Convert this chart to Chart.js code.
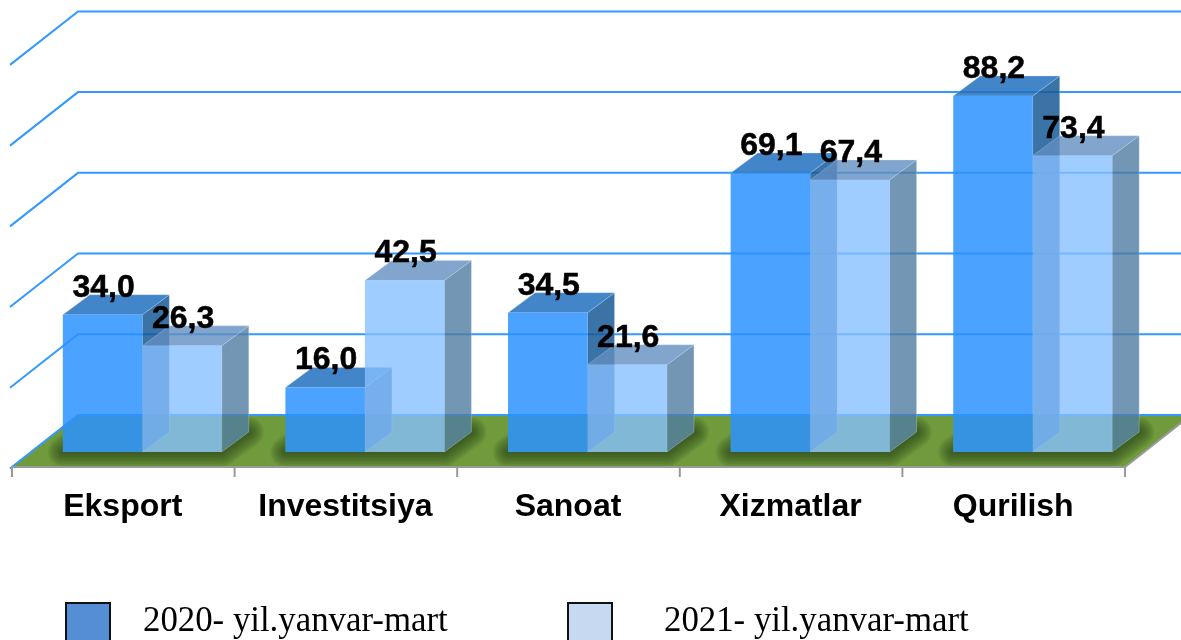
<!DOCTYPE html>
<html>
<head>
<meta charset="utf-8">
<style>html,body{margin:0;padding:0;background:#fff;overflow:hidden}canvas{display:block}</style>
<script src="https://cdn.jsdelivr.net/npm/chart.js@4/dist/chart.umd.js"></script>
</head>
<body>
<canvas id="c" width="1181" height="640"></canvas>
<script>
const categories = ["Eksport", "Investitsiya", "Sanoat", "Xizmatlar", "Qurilish"];
const values2020 = [34.0, 16.0, 34.5, 69.1, 88.2];
const values2021 = [26.3, 42.5, 21.6, 67.4, 73.4];
const seriesNames = ["2020- yil.yanvar-mart", "2021- yil.yanvar-mart"];
const frontColors = ["rgba(43,146,255,0.85)", "rgba(135,192,255,0.79)"];
const topColors = ["rgba(33,112,190,0.85)", "rgba(99,142,192,0.8)"];
const sideColors = ["rgba(25,90,150,0.85)", "rgba(80,124,161,0.8)"];
const legendColors = ["#558ED5", "#C6D9F1"];
const legendBoxX = [66, 568];
const legendTextX = [143, 664];

const BAR_DX = 27, BAR_DY = 20;      // bar depth
const WALL_DX = 47, WALL_DY = 37;    // bar plane -> back wall
const FRONT_DX = 19, FRONT_DY = 15;  // bar plane -> floor front edge
const GRID = "#3399ff", AXIS = "#999999";

function trace(ctx, pts) {
  pts.forEach((p, i) => i ? ctx.lineTo(p[0], p[1]) : ctx.moveTo(p[0], p[1]));
  ctx.closePath();
}
function poly(ctx, pts, fill, edge) {
  ctx.beginPath();
  trace(ctx, pts);
  ctx.fillStyle = fill;
  ctx.fill();
  if (edge) {
    ctx.strokeStyle = edge;
    ctx.lineWidth = 1;
    ctx.stroke();
  }
}

const scene = {
  id: "scene",
  beforeDatasetsDraw(chart) {
    const ctx = chart.ctx, xs = chart.scales.x, ys = chart.scales.y;
    const L = chart.chartArea.left, R = chart.chartArea.right;
    const y0 = ys.getPixelForValue(0);
    const fl = L - FRONT_DX, fr = R - FRONT_DX, fy = y0 + FRONT_DY;
    const bl = L + WALL_DX, br = R + WALL_DX, by = y0 - WALL_DY;

    ctx.save();
    // floor
    const floor = [[fl, fy], [fr, fy], [br, by], [bl, by]];
    poly(ctx, floor, "#6f9b3c");

    // soft shadow halo on the floor around each bar pair's footprint
    categories.forEach((_, j) => {
      const a = chart.getDatasetMeta(0).data[j], b = chart.getDatasetMeta(1).data[j];
      const x1 = a.x - a.width / 2, x2 = b.x + b.width / 2;
      const foot = [[x1, y0], [x2, y0], [x2 + BAR_DX, y0 - BAR_DY], [x1 + BAR_DX, y0 - BAR_DY]];
      const covered = [[x1, y0], [x2, y0], [x2 + BAR_DX, y0 - BAR_DY], [x2 + BAR_DX, by], [x1, by]];
      ctx.save();
      ctx.beginPath();
      trace(ctx, floor);
      ctx.clip();
      ctx.beginPath();
      ctx.rect(0, 0, 1181, 640);
      trace(ctx, covered);
      ctx.clip("evenodd");
      ctx.lineJoin = "round";
      ctx.strokeStyle = "rgba(40,60,24,0.085)";
      for (let w = 30; w >= 2; w -= 3) {
        ctx.lineWidth = w;
        ctx.beginPath();
        trace(ctx, foot);
        ctx.stroke();
      }
      ctx.restore();
    });

    // back-wall grid lines from the value scale
    ctx.lineWidth = 2;
    ctx.strokeStyle = GRID;
    ys.ticks.forEach(t => {
      const gy = ys.getPixelForValue(t.value) - WALL_DY;
      ctx.beginPath();
      ctx.moveTo(bl - WALL_DX - FRONT_DX - 2, gy + WALL_DY + FRONT_DY + 1.5);
      ctx.lineTo(bl, gy);
      ctx.lineTo(br, gy);
      ctx.stroke();
    });

    // x axis edge + ticks
    ctx.strokeStyle = AXIS;
    ctx.beginPath();
    ctx.moveTo(fl, fy);
    ctx.lineTo(fr, fy);
    ctx.lineTo(br, by);
    ctx.stroke();
    const step = (R - L) / categories.length;
    for (let i = 0; i <= categories.length; i++) {
      const tx = xs.getPixelForValue(0) - step / 2 + i * step - FRONT_DX;
      ctx.beginPath();
      ctx.moveTo(tx, fy);
      ctx.lineTo(tx, fy + 10);
      ctx.stroke();
    }

    // top and side faces of the bars
    [0, 1].forEach(d => {
      chart.getDatasetMeta(d).data.forEach(bar => {
        const x1 = bar.x - bar.width / 2, x2 = bar.x + bar.width / 2, t = bar.y, b = bar.base;
        const edge = "rgba(205,225,250,0.28)";
        poly(ctx, [[x2, t], [x2 + BAR_DX, t - BAR_DY], [x2 + BAR_DX, b - BAR_DY], [x2, b]], sideColors[d], edge);
        poly(ctx, [[x1, t], [x2, t], [x2 + BAR_DX, t - BAR_DY], [x1 + BAR_DX, t - BAR_DY]], topColors[d], edge);
      });
    });
    ctx.restore();
  },
  afterDatasetsDraw(chart) {
    const ctx = chart.ctx;
    ctx.save();
    // value labels
    ctx.fillStyle = "#000";
    ctx.strokeStyle = "#000";
    ctx.lineWidth = 0.5;
    ctx.font = 'bold 32px "Liberation Sans"';
    ctx.textAlign = "center";
    ctx.textBaseline = "alphabetic";
    [values2020, values2021].forEach((vals, d) => {
      chart.getDatasetMeta(d).data.forEach((bar, j) => {
        const s = vals[j].toFixed(1).replace(".", ",");
        ctx.fillText(s, bar.x + 1, bar.y - 18);
        ctx.strokeText(s, bar.x + 1, bar.y - 18);
      });
    });
    // legend
    seriesNames.forEach((name, d) => {
      ctx.fillStyle = legendColors[d];
      ctx.strokeStyle = "#111";
      ctx.lineWidth = 2;
      ctx.fillRect(legendBoxX[d], 603, 44, 41);
      ctx.strokeRect(legendBoxX[d], 603, 44, 41);
      ctx.fillStyle = "#000";
      ctx.font = '34.8px "Liberation Serif"';
      ctx.textAlign = "left";
      ctx.fillText(name, legendTextX[d], 631);
    });
    ctx.restore();
  }
};

new Chart(document.getElementById("c"), {
  type: "bar",
  data: {
    labels: categories,
    datasets: [
      { label: seriesNames[0], data: values2020, backgroundColor: frontColors[0], borderWidth: 0 },
      { label: seriesNames[1], data: values2021, backgroundColor: frontColors[1], borderWidth: 0 }
    ]
  },
  options: {
    responsive: false,
    animation: false,
    layout: { padding: { left: 31, right: 37, top: 48.4, bottom: 48 } },
    datasets: { bar: { categoryPercentage: 0.714, barPercentage: 1 } },
    plugins: { legend: { display: false }, tooltip: { enabled: false }, title: { display: false } },
    scales: {
      x: {
        afterFit(s) { s.height = 140; },
        grid: { display: false, drawTicks: false },
        border: { display: false },
        ticks: {
          color: "#000",
          font: { family: '"Liberation Sans"', size: 32, weight: "bold" },
          labelOffset: -19.5,
          padding: 36,
          maxRotation: 0,
          autoSkip: false
        }
      },
      y: {
        display: false,
        min: 0,
        max: 100,
        ticks: { stepSize: 20 },
        grid: { display: false }
      }
    }
  },
  plugins: [scene]
});
</script>
</body>
</html>
